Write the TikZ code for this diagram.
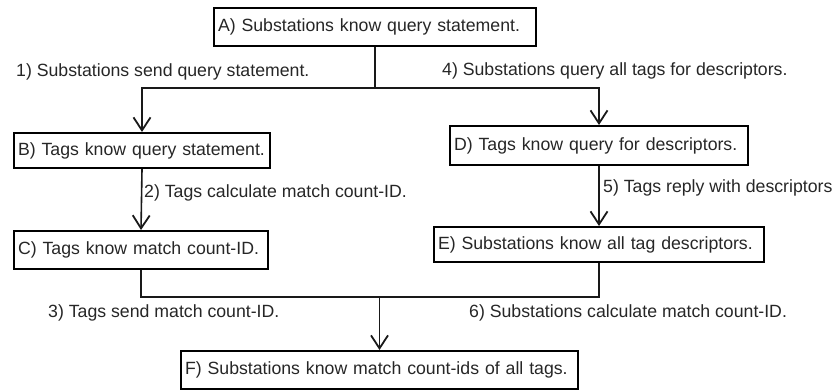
\documentclass[tikz,border=0pt]{standalone}
\usepackage{fontspec}
\setmainfont{Liberation Sans}
\usetikzlibrary{arrows.meta}
\begin{document}
\begin{tikzpicture}[x=1bp,y=-1bp,
  every node/.style={font=\fontsize{17.7bp}{21bp}\selectfont, text=black!85},
  stepbox/.style={draw=black, line width=2bp, inner xsep=4bp, inner ysep=0bp, align=left, anchor=north west},
  lbl/.style={anchor=west, inner sep=0pt},
  conn/.style={draw=black!90, line width=1.6bp},
  arr/.style={conn, -{Straight Barb[length=13bp,width=17bp,line width=1.8bp]}}]
\useasboundingbox (0,0) rectangle (834,391);
% boxes
\node[stepbox, text width=314bp, minimum height=38bp] (A) at (213,7) {A) Substations know query statement.};
\node[stepbox, text width=248bp, minimum height=35bp] (B) at (13,132) {B) Tags know query statement.};
\node[stepbox, text width=246bp, minimum height=38bp] (C) at (13,230) {C) Tags know match count-ID.};
\node[stepbox, text width=290bp, minimum height=39bp] (D) at (449,125) {D) Tags know query for descriptors.};
\node[stepbox, text width=322bp, minimum height=35bp] (E) at (433,226) {E) Substations know all tag descriptors.};
\node[stepbox, text width=389bp, minimum height=38bp] (F) at (180,350) {F) Substations know match count-ids of all tags.};
% junctions
\coordinate (tj) at (375,88);
\coordinate (bj) at (377,297);
% top split
\draw[conn] (A.south) -- (A.south |- tj);
\draw[arr] (A.south |- tj) -| (B.north);
\draw[arr] (A.south |- tj) -| (D.north);
% middle
\draw[arr] (B.south) -- (C.north);
\draw[arr] (D.south) -- (E.north);
% bottom merge
\draw[conn] (C.south) |- (F.north |- bj);
\draw[conn] (E.south) |- (F.north |- bj);
\draw[arr] (F.north |- bj) -- (F.north);
% labels
\node[lbl] (l1) at (16,72) {1) Substations send query statement.};
\node[lbl] (l4) at (442,71) {4) Substations query all tags for descriptors.};
\node[lbl] (l2) at (144,193) {2) Tags calculate match count-ID.};
\node[lbl] (l5) at (603,188) {5) Tags reply with descriptors};
\node[lbl] (l3) at (48,313) {3) Tags send match count-ID.};
\node[lbl] (l6) at (469,313) {6) Substations calculate match count-ID.};
\end{tikzpicture}
\end{document}
